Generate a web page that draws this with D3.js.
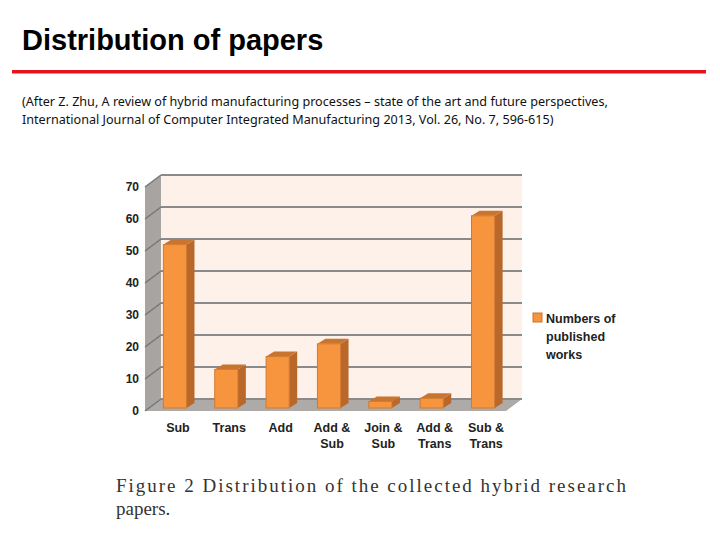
<!DOCTYPE html><html><head><meta charset="utf-8"><script src="https://cdn.jsdelivr.net/npm/d3@7"></script>
<style>body{margin:0;background:#fff}</style></head><body><svg id="c" width="720" height="540"></svg><script>
const categories=[["Sub"],["Trans"],["Add"],["Add &","Sub"],["Join &","Sub"],["Add &","Trans"],["Sub &","Trans"]];
const values=[52,13,17,21,3,4,61];
const yTicks=[0,10,20,30,40,50,60,70];
const svg=d3.select("#c");
svg.append("text").attr("x",22).attr("y",50).attr("font-family","Liberation Sans, Arial").attr("font-weight","bold").attr("font-size",29).attr("fill","#000").text("Distribution of papers");
svg.append("rect").attr("x",12).attr("y",70).attr("width",694).attr("height",3.5).attr("fill","#e8141b");
const sub=["(After Z. Zhu, A review of hybrid manufacturing processes – state of the art and future perspectives,","International Journal of Computer Integrated Manufacturing 2013, Vol. 26, No. 7, 596-615)"];
sub.forEach((t,i)=>svg.append("text").attr("x",22).attr("y",106+i*18).attr("font-family","Noto Sans, sans-serif").attr("font-size",12.6).attr("fill","#111").text(t));
const y=d3.scaleLinear().domain([0,70]).range([411,187]);
const x=d3.scaleBand().domain(d3.range(values.length)).range([149,509]).paddingInner(0.55).paddingOuter(0.28);
const dx=16,dy=-12;
const g=svg.append("g");
// side wall
g.append("path").attr("d",`M145,${y(70)}L${145+dx},${y(70)+dy}L${145+dx},${y(0)+dy}L145,${y(0)}Z`).attr("fill","#a8a4a2");
// back wall
g.append("rect").attr("x",145+dx).attr("y",y(70)+dy).attr("width",522-145-dx).attr("height",y(0)-y(70)).attr("fill","#fdf1ea");
// floor
g.append("path").attr("d",`M145,${y(0)}L${145+dx},${y(0)+dy}L522,${y(0)+dy}L506,${y(0)}Z`).attr("fill","#aeaaa8");
yTicks.forEach(t=>{
 g.append("line").attr("x1",145).attr("y1",y(t)).attr("x2",145+dx).attr("y2",y(t)+dy).attr("stroke","#777").attr("stroke-width",1.5);
 g.append("line").attr("x1",145+dx).attr("x2",522).attr("y1",y(t)+dy).attr("y2",y(t)+dy).attr("stroke","#8a8a8a").attr("stroke-width",2);
 g.append("text").attr("x",139).attr("y",y(t)+4).attr("text-anchor","end").attr("font-family","Liberation Sans, Arial").attr("font-weight","bold").attr("font-size",12).attr("fill","#222").text(t);
});
const bd=8,bdy=-5;
values.forEach((v,i)=>{
 const x0=x(i),w=x.bandwidth(),yt=y(v),yb=y(0)-3;
 g.append("path").attr("d",`M${x0+w},${yt}L${x0+w+bd},${yt+bdy}L${x0+w+bd},${yb+bdy}L${x0+w},${yb}Z`).attr("fill","#b9682a");
 g.append("path").attr("d",`M${x0},${yt}L${x0+bd},${yt+bdy}L${x0+w+bd},${yt+bdy}L${x0+w},${yt}Z`).attr("fill","#c9752f");
 g.append("rect").attr("x",x0).attr("y",yt).attr("width",w).attr("height",yb-yt).attr("fill","#f7953f").attr("stroke","#d07a30").attr("stroke-width",1);
 categories[i].forEach((l,j)=>g.append("text").attr("x",x0+w/2+3).attr("y",432+j*16).attr("text-anchor","middle").attr("font-family","Liberation Sans, Arial").attr("font-weight","bold").attr("font-size",12.5).attr("fill","#222").text(l));
});
svg.append("rect").attr("x",533).attr("y",313).attr("width",9).attr("height",9).attr("fill","#f7953f").attr("stroke","#c9752f");
["Numbers of","published","works"].forEach((t,i)=>svg.append("text").attr("x",546).attr("y",323+i*18).attr("font-family","Liberation Sans, Arial").attr("font-weight","bold").attr("font-size",12.5).attr("fill","#222").text(t));
svg.append("text").attr("x",116).attr("y",492).attr("font-family","Liberation Serif, serif").attr("font-size",19).attr("fill","#333").attr("textLength",510).text("Figure 2   Distribution  of  the  collected  hybrid  research");
svg.append("text").attr("x",116).attr("y",515).attr("font-family","Liberation Serif, serif").attr("font-size",19).attr("fill","#333").text("papers.");
</script></body></html>
